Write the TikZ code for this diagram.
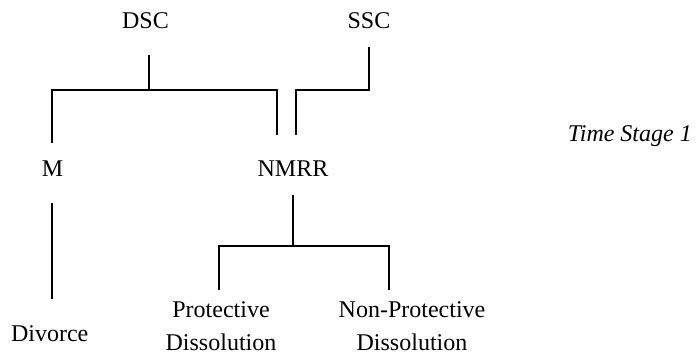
\documentclass[tikz,border=0pt]{standalone}
\usepackage{fontspec}
\setmainfont{Liberation Serif}
\begin{document}
\begin{tikzpicture}[x=1pt,y=-1pt,
  lbl/.style={inner sep=0pt, anchor=base, font=\fontsize{24}{33}\selectfont},
  conn/.style={line width=1.7pt, line cap=butt, line join=miter}]
\useasboundingbox (0,0) rectangle (699,356);
% labels
\node[lbl] (dsc) at (145.5,28) {DSC};
\node[lbl] (ssc) at (369,28) {SSC};
\node[lbl] (m) at (52.5,176) {M};
\node[lbl] (nmrr) at (293,176) {NMRR};
\node[lbl, anchor=base east, font=\fontsize{24}{33}\selectfont\itshape] (time) at (692,141) {Time Stage 1};
\node[lbl] (div) at (49.7,341) {Divorce};
\node[lbl] (prot) at (221,317) {Protective};
\node[lbl] (protb) at (221,350) {Dissolution};
\node[lbl] (nonprot) at (412,317) {Non-Protective};
\node[lbl] (nonprotb) at (412,350) {Dissolution};
% connector end points
\coordinate (dscA) at (148.7,55);
\coordinate (dscB) at (148.7,90);
\coordinate (mTop) at (52.3,143.3);
\coordinate (nmrrL) at (277.3,135);
\coordinate (sscA) at (369.3,46.7);
\coordinate (nmrrR) at (295.7,135);
\coordinate (mBot) at (52.3,203.3);
\coordinate (divTop) at (52.3,299.3);
\coordinate (nmrrBot) at (292.7,195);
\coordinate (split) at (292.7,246);
\coordinate (protTop) at (219.3,290);
\coordinate (nonprotTop) at (389,290);
% connectors
\draw[conn] (dscA) -- (dscB);
\draw[conn] (mTop) |- (dscB) -| (nmrrL);
\draw[conn] (sscA) |- (nmrrR |- dscB) -- (nmrrR);
\draw[conn] (mBot) -- (divTop);
\draw[conn] (nmrrBot) -- (split);
\draw[conn] (protTop) |- (split) -| (nonprotTop);
\end{tikzpicture}
\end{document}
